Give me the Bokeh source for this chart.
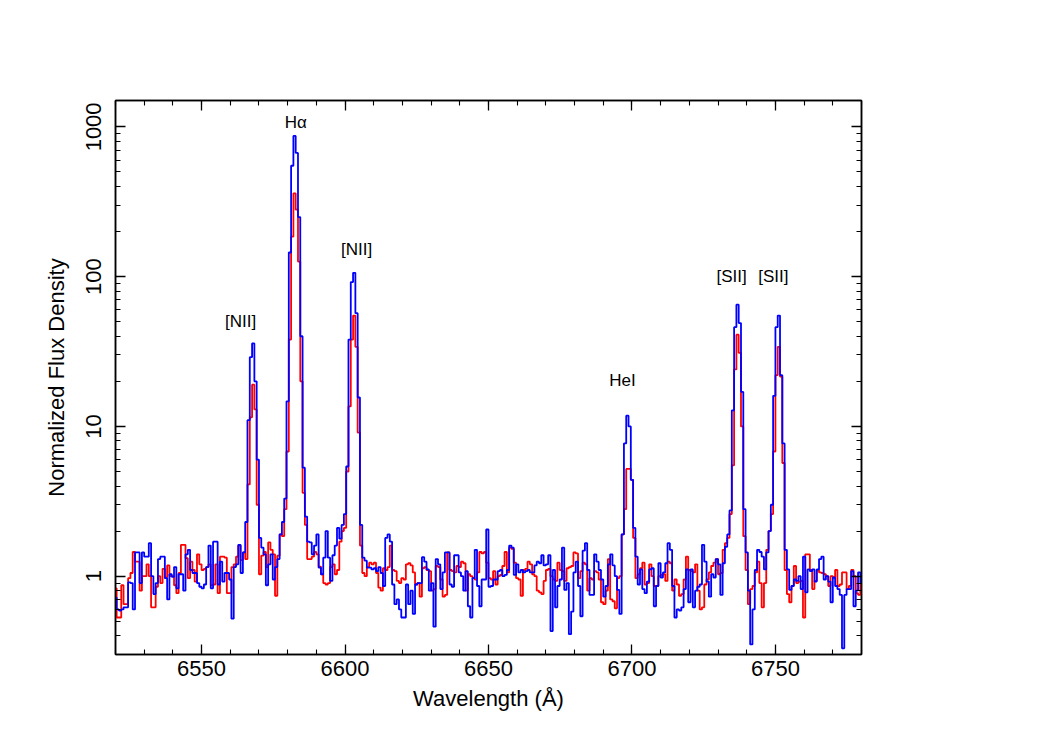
import numpy as np
from bokeh.plotting import figure
from bokeh.models import (Range1d, LinearAxis, LogAxis, SingleIntervalTicker,
                          LogTicker, PrintfTickFormatter, CustomJSTickFormatter,
                          ColumnDataSource)
from bokeh.embed import file_html
from bokeh.resources import INLINE
from bokeh.core.properties import value

# ---------------- data ----------------
WL_START = 6519.2   # centre of first bin (Angstrom)
WL_STEP = 0.8       # bin width (Angstrom)

# blue spectrum, in wavelength order
blue_cont_1 = [0.95, 0.72, 0.6, 0.59, 0.6, 0.62, 0.62, 0.91, 0.9, 0.6,
               1.44, 1.44, 0.9, 1.44, 1.35, 1.35, 1.66, 1.0, 0.76, 0.9,
               1.3, 1.35, 1.35, 0.97, 0.7, 1.03, 0.99, 1.15, 0.83, 1.03,
               1.03, 0.8, 1.4, 1.5, 1.1, 1.05, 1.05, 0.9, 0.85, 0.83,
               0.88, 1.15, 1.6, 0.83, 1.7, 1.7, 0.88, 1.25, 0.92, 1.05,
               1.05, 0.95, 0.52, 1.15, 1.2, 1.62, 1.05, 1.44]
blue_nii_a = [2.3, 11, 29, 35.8, 20, 6, 1.8, 1.55, 1.4, 0.87]
blue_cont_2 = [1.2, 1.4, 0.95, 1.15, 1.3, 1.9]
blue_halpha = [2.3, 3.3, 14.7, 145, 550, 870, 670, 250, 40, 5.3, 2.5, 1.7]
blue_cont_3 = [1.68, 1.4, 1.6, 1.9, 1.14, 1.03, 1.33, 2.0, 1.33, 0.93,
               1.38, 1.6, 2.1, 1.78, 2.2]
blue_nii_b = [2.6, 5.4, 38, 92, 106, 57, 15.6, 2.2]
blue_cont_4 = [1.33, 1.27, 1.14, 1.14, 1.11, 1.13, 1.08, 1.15, 1.05, 0.86,
               1.8, 1.9, 1.7, 0.88, 0.65, 0.7, 0.6, 0.53, 0.53, 0.88,
               0.65, 0.8, 0.56, 0.88, 0.9, 0.9, 1.34, 1.25, 1.11, 0.8,
               0.9, 0.46, 1.3, 1.2, 0.82, 1.06, 1.44, 1.44, 0.88, 0.85,
               1.38, 1.38, 1.06, 1.0, 0.8, 1.08, 0.63, 0.53, 0.97, 1.5,
               0.86, 0.63, 0.95, 0.95, 2.05, 0.85, 0.86, 0.95, 0.95, 1.08,
               1.1, 1.0, 1.02, 1.1, 1.6, 1.55, 1.02, 1.2, 1.06, 1.1,
               1.06, 1.08, 1.1, 1.06, 1.06, 1.18, 1.25, 1.22, 1.38, 1.18,
               1.2, 1.38, 0.43, 1.1, 0.62, 0.86, 0.95, 1.55, 0.81]
blue_hei = [0.9, 0.41, 0.58, 1.06, 1.25, 0.86, 0.54, 1.48, 1.66, 1.1,
            0.75, 0.75, 1.4, 1.25, 1.1, 0.95, 0.73, 0.86, 1.2, 1.4,
            1.18, 1.0, 0.81, 0.56, 1.9, 7.7, 11.8, 10, 4.4, 2.1]
blue_sii_a = [1.35, 0.88, 1.11, 0.82, 0.77, 0.92, 1.11, 1.13, 0.63, 0.86,
              1.22, 0.98, 1.06, 1.22, 1.66, 1.5, 0.86, 0.53, 0.6, 0.59,
              0.62, 0.82, 1.11, 0.67, 1.11, 0.62, 0.8, 0.85, 0.88, 1.62,
              1.25, 0.92, 0.73, 1.03, 0.98, 1.3, 1.2, 0.75, 1.22, 1.57,
              1.9, 2.75, 12.8, 46, 65, 49, 17, 2.8]
blue_sii_b = [1.44, 0.8, 0.35, 0.6, 1.1, 1.5, 1.45, 1.35, 1.11, 1.44,
              2.0, 3.0, 16, 46, 55, 22, 7.7]
blue_cont_5 = [1.5, 1.11, 0.81, 0.86, 0.95, 0.93, 1.0, 0.82, 1.35, 0.78,
               1.11, 1.08, 1.11, 0.92, 1.11, 1.3, 1.35, 0.95, 1.0, 0.92,
               0.67, 0.98, 0.86, 0.82, 0.75, 0.33, 0.75, 0.82, 0.82, 1.08,
               0.63, 0.8, 1.06, 0.9]

# red spectrum, in wavelength order
red_cont_1 = [1.15, 0.83, 0.53, 0.53, 0.87, 0.65, 0.65, 0.97, 1.05, 1.45,
              1.25, 1.25, 0.8, 1.0, 1.0, 1.2, 1.0, 0.62, 0.62, 0.85,
              1.0, 0.9, 1.12, 0.98, 1.18, 1.0, 1.0, 0.87, 0.77, 1.05,
              1.62, 1.62, 1.32, 0.97, 1.25, 1.1, 0.92, 1.4, 1.2, 1.1,
              1.12, 1.15, 1.2, 0.87, 0.88, 1.2, 0.77, 1.35, 1.35, 1.33,
              0.77, 0.77, 1.15, 1.2, 1.35, 1.6, 1.28, 1.44]
red_nii_a = [1.3, 4.1, 11.5, 19, 13, 3.0, 1.03, 1.37, 1.45, 1.15]
red_cont_2 = [1.68, 1.5, 1.4, 0.74, 1.37, 1.9]
red_halpha = [1.85, 2.8, 6.8, 38, 185, 360, 280, 126, 20, 3.6, 2.2, 1.3]
red_cont_3 = [1.3, 1.35, 1.45, 1.4, 1.16, 1.03, 0.9, 0.88, 0.9, 1.15,
              1.2, 1.03, 1.1, 1.7, 2.0]
red_nii_b = [2.1, 5.0, 13.6, 38, 55, 34, 9.1, 1.6]
red_cont_4 = [1.05, 1.0, 1.15, 1.23, 1.2, 1.23, 1.05, 0.84, 0.8, 1.13,
              1.1, 1.15, 1.6, 1.1, 1.08, 0.93, 0.9, 0.97, 0.95, 1.2,
              1.22, 1.18, 1.06, 0.88, 0.9, 0.73, 1.13, 1.15, 1.1, 1.08,
              0.8, 0.82, 1.17, 1.15, 0.95, 0.73, 0.75, 1.44, 1.1, 1.08,
              1.06, 1.17, 1.15, 1.25, 1.22, 0.8, 1.03, 1.0, 0.97, 0.95,
              1.06, 1.45, 1.42, 1.45, 1.23, 0.97, 0.95, 1.08, 0.88, 1.0,
              1.02, 1.17, 1.45, 1.06, 1.55, 1.52, 1.23, 0.97, 0.95, 0.74,
              1.1, 1.12, 1.25, 1.2, 1.03, 1.0, 0.8, 0.78, 0.76, 0.93,
              1.1, 1.12, 1.0, 0.95, 0.93, 1.23, 1.1, 1.08]
red_hei = [0.93, 1.13, 1.15, 1.17, 1.44, 1.42, 0.97, 1.08, 1.23, 1.2,
           0.8, 0.97, 0.95, 1.08, 1.06, 0.95, 0.67, 0.65, 0.8, 1.3,
           0.7, 0.68, 0.61, 0.97, 1.0, 1.9, 2.8, 5.2, 5.2, 4.4, 1.8]
red_sii_a = [0.97, 1.03, 1.13, 1.23, 0.88, 0.9, 1.2, 1.0, 0.86, 0.86,
             1.0, 1.02, 1.03, 0.93, 1.25, 1.22, 0.8, 0.95, 0.88, 0.74,
             0.76, 0.95, 1.35, 1.1, 1.08, 1.06, 1.2, 0.8, 0.6, 0.62,
             0.88, 0.95, 1.06, 1.17, 1.23, 1.3, 1.03, 1.05, 1.5, 1.66,
             1.8, 2.6, 5.5, 24, 41, 31, 10, 1.85]
red_sii_b = [1.1, 0.65, 0.82, 0.86, 1.06, 1.25, 0.9, 0.62, 0.9, 1.5,
             2.0, 2.6, 6.8, 22, 34, 21.5, 5.7]
red_cont_5 = [1.1, 0.76, 0.67, 0.86, 1.17, 0.9, 0.92, 0.93, 0.53, 1.4,
              1.4, 1.1, 0.82, 0.93, 1.1, 1.06, 1.05, 1.03, 1.0, 0.86,
              1.0, 0.98, 1.1, 0.86, 0.88, 1.06, 1.06, 0.82, 0.86, 1.1,
              1.0, 0.77, 0.75, 0.88]

# emission-line labels
line_names = ["[NII]", "H\u03b1", "[NII]", "HeI", "[SII]", "[SII]"]
line_label_wl = [6563.6, 6582.8, 6604.0, 6696.7, 6734.7, 6749.3]
line_label_flux = [50, 1064, 151, 20.3, 100, 100]

# ---------------- assemble ----------------
blue = (blue_cont_1 + blue_nii_a + blue_cont_2 + blue_halpha + blue_cont_3 +
        blue_nii_b + blue_cont_4 + blue_hei + blue_sii_a + blue_sii_b + blue_cont_5)
red = (red_cont_1 + red_nii_a + red_cont_2 + red_halpha + red_cont_3 +
       red_nii_b + red_cont_4 + red_hei + red_sii_a + red_sii_b + red_cont_5)

wl_blue = WL_START + WL_STEP * np.arange(len(blue))
wl_red = WL_START + WL_STEP * np.arange(len(red))

src_blue = ColumnDataSource(dict(wl=wl_blue, flux=blue))
src_red = ColumnDataSource(dict(wl=wl_red, flux=red))

FONT = "Liberation Sans"

p = figure(frame_width=746, frame_height=554,
           x_range=Range1d(6520, 6780), y_range=Range1d(0.3, 1500),
           y_axis_type="log", output_backend="svg", toolbar_location=None,
           min_border_left=115, min_border_top=100, min_border_right=140,
           min_border_bottom=60)
p.background_fill_color = "white"
p.border_fill_color = "white"
p.outline_line_color = "black"
p.outline_line_width = 1.5
p.xgrid.visible = False
p.ygrid.visible = False

p.step(x="wl", y="flux", source=src_red, mode="center",
       line_color="#ff0000", line_width=1.8)
p.step(x="wl", y="flux", source=src_blue, mode="center",
       line_color="#0000ff", line_width=1.8)

p.text(x=line_label_wl, y=line_label_flux, text=line_names,
       text_font=value(FONT), text_font_size="17px", text_color="black",
       text_align="center", text_baseline="middle")


def style_axis(ax):
    ax.axis_line_color = "black"
    ax.axis_line_width = 1.5
    ax.major_tick_line_color = "black"
    ax.minor_tick_line_color = "black"
    ax.major_tick_line_width = 1.3
    ax.minor_tick_line_width = 1.1
    ax.major_tick_in = 10
    ax.major_tick_out = 0
    ax.minor_tick_in = 5
    ax.minor_tick_out = 0
    ax.major_label_text_font = FONT
    ax.major_label_text_color = "black"
    ax.major_label_text_font_size = "22px"


# bottom axis
xax = p.xaxis[0]
xax.ticker = SingleIntervalTicker(interval=50, num_minor_ticks=5)
style_axis(xax)
xax.axis_label = "Wavelength (\u00c5)"
xax.axis_label_text_font = FONT
xax.axis_label_text_color = "black"
xax.axis_label_text_font_style = "normal"
xax.axis_label_text_font_size = "22px"
xax.axis_label_standoff = 7
xax.major_label_standoff = 6

# left axis
yax = p.yaxis[0]
yax.ticker = LogTicker(num_minor_ticks=10)
yax.formatter = PrintfTickFormatter(format="%d")
style_axis(yax)
yax.major_label_orientation = "vertical"
yax.major_label_standoff = 14
yax.axis_label = "Normalized Flux Density"
yax.axis_label_text_font = FONT
yax.axis_label_text_color = "black"
yax.axis_label_text_font_style = "normal"
yax.axis_label_text_font_size = "22px"
yax.axis_label_standoff = 15

# top and right axes (ticks only, no labels)
blank = CustomJSTickFormatter(code="return ''")
top = LinearAxis(ticker=SingleIntervalTicker(interval=50, num_minor_ticks=5),
                 formatter=blank)
style_axis(top)
top.major_label_standoff = 0
p.add_layout(top, "above")

right = LogAxis(ticker=LogTicker(num_minor_ticks=10), formatter=blank)
style_axis(right)
right.major_label_standoff = 0
p.add_layout(right, "right")

open("out.html", "w").write(file_html(p, INLINE))
